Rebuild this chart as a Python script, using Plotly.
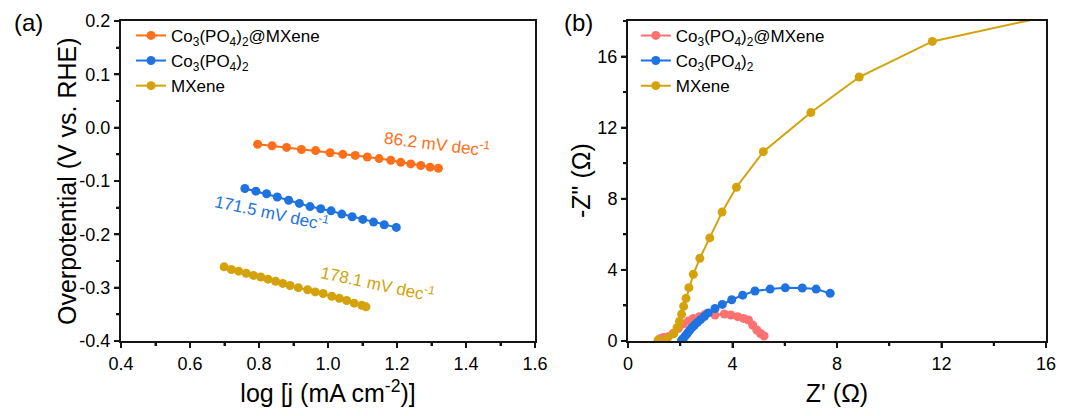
import plotly.graph_objects as go

# ---- Panel (a): Tafel data ----
tafel_cpm_x = [0.796, 0.838, 0.880, 0.923, 0.964, 1.006, 1.043, 1.079, 1.114, 1.148, 1.182, 1.211, 1.240, 1.269, 1.296, 1.320]
tafel_cpm_y = [-0.031, -0.034, -0.037, -0.041, -0.043, -0.047, -0.050, -0.052, -0.055, -0.058, -0.061, -0.065, -0.068, -0.071, -0.074, -0.076]

tafel_cp_x = [0.759, 0.791, 0.822, 0.853, 0.886, 0.917, 0.948, 0.979, 1.009, 1.040, 1.070, 1.101, 1.132, 1.163, 1.198]
tafel_cp_y = [-0.114, -0.119, -0.124, -0.130, -0.136, -0.142, -0.148, -0.152, -0.156, -0.162, -0.167, -0.172, -0.177, -0.182, -0.187]

tafel_mx_x = [0.699, 0.720, 0.741, 0.763, 0.784, 0.805, 0.826, 0.848, 0.869, 0.890, 0.914, 0.941, 0.963, 0.986, 1.011, 1.033, 1.054, 1.076, 1.098, 1.110]
tafel_mx_y = [-0.261, -0.266, -0.269, -0.273, -0.277, -0.280, -0.284, -0.288, -0.292, -0.296, -0.300, -0.304, -0.308, -0.311, -0.316, -0.320, -0.324, -0.329, -0.333, -0.336]

tafel_slopes = ["86.2", "171.5", "178.1"]

# ---- Panel (b): Nyquist data ----
eis_cpm_x = [1.23, 1.35, 1.54, 1.73, 1.93, 2.12, 2.31, 2.50, 2.73, 2.95, 3.33, 3.69, 3.94, 4.20, 4.42, 4.61, 4.77, 4.93, 5.07, 5.21]
eis_cpm_y = [0.13, 0.19, 0.24, 0.43, 0.71, 0.96, 1.12, 1.27, 1.37, 1.50, 1.46, 1.52, 1.46, 1.37, 1.27, 1.18, 0.90, 0.62, 0.42, 0.28]

eis_cp_x = [2.05, 2.12, 2.20, 2.28, 2.36, 2.45, 2.55, 2.66, 2.78, 2.92, 3.07, 3.33, 3.61, 3.97, 4.39, 4.86, 5.44, 6.02, 6.67, 7.20, 7.74]
eis_cp_y = [0.05, 0.15, 0.30, 0.45, 0.60, 0.75, 0.90, 1.05, 1.20, 1.38, 1.58, 1.83, 2.06, 2.32, 2.58, 2.81, 2.92, 2.99, 2.98, 2.92, 2.68]

eis_mx_x = [1.15, 1.50, 1.75, 1.88, 1.97, 2.05, 2.13, 2.22, 2.33, 2.50, 2.75, 3.13, 3.60, 4.15, 5.18, 7.00, 8.85, 11.65, 16.50]
eis_mx_y = [0.05, 0.15, 0.40, 0.75, 1.10, 1.50, 1.95, 2.40, 3.00, 3.75, 4.65, 5.80, 7.25, 8.65, 10.65, 12.85, 14.85, 16.85, 18.40]

# ---- tick values / labels ----
a_xticks = [0.4, 0.6, 0.8, 1.0, 1.2, 1.4, 1.6]
a_xlabels = ["0.4", "0.6", "0.8", "1.0", "1.2", "1.4", "1.6"]
a_yticks = [-0.4, -0.3, -0.2, -0.1, 0.0, 0.1, 0.2]
a_ylabels = ["-0.4", "-0.3", "-0.2", "-0.1", "0.0", "0.1", "0.2"]
b_xticks = [0, 4, 8, 12, 16]
b_yticks = [0, 4, 8, 12, 16]
b_labels = ["0", "4", "8", "12", "16"]
a_xminor = [0.5, 0.7, 0.9, 1.1, 1.3, 1.5]
a_yminor = [-0.35, -0.25, -0.15, -0.05, 0.05, 0.15]
b_xminor = [2, 6, 10, 14]
b_yminor = [2, 6, 10, 14]

names = ["Co<sub>3</sub>(PO<sub>4</sub>)<sub>2</sub>@MXene", "Co<sub>3</sub>(PO<sub>4</sub>)<sub>2</sub>", "MXene"]
col_orange = "#FF6F1A"
col_blue = "#1E73E0"
col_gold = "#D4A20A"
col_pink = "#FF7070"
col_axis = "#151515"

FONT = "Arial"
W, H = 1074, 416
PX_A = (121, 535)     # panel (a) left/right pixel
PX_B = (628, 1046)    # panel (b) left/right pixel
PY = (21, 341)        # top/bottom pixel
XDOM_A = [PX_A[0] / W, PX_A[1] / W]
XDOM_B = [PX_B[0] / W, PX_B[1] / W]
YDOM = [1 - PY[1] / H, 1 - PY[0] / H]
RX_A, RY_A = [0.4, 1.6], [-0.4, 0.2]
RX_B, RY_B = [0, 16], [0, 18]

fig = go.Figure()

def add(x, y, name, color, xa, ya, legend):
    fig.add_trace(go.Scatter(
        x=x, y=y, name=name, mode="lines+markers",
        line=dict(color=color, width=2),
        marker=dict(color=color, size=9),
        xaxis=xa, yaxis=ya, legend=legend, hoverinfo="skip"))

add(tafel_cpm_x, tafel_cpm_y, names[0], col_orange, "x", "y", "legend")
add(tafel_cp_x, tafel_cp_y, names[1], col_blue, "x", "y", "legend")
add(tafel_mx_x, tafel_mx_y, names[2], col_gold, "x", "y", "legend")

add(eis_cpm_x, eis_cpm_y, names[0], col_pink, "x2", "y2", "legend2")
add(eis_cp_x, eis_cp_y, names[1], col_blue, "x2", "y2", "legend2")
add(eis_mx_x, eis_mx_y, names[2], col_gold, "x2", "y2", "legend2")

# ---- frame + tick marks as a pixel-space overlay trace ----
fx, fy = [], []
def seg(x0, y0, x1, y1):
    fx.extend([x0, x1, None]); fy.extend([y0, y1, None])

def frame(px, rx, ry, majx, minx, majy, miny):
    l, r = px; t, b = PY
    lo, ro, to, bo = l - 1, r + 1, t - 1, b + 1
    fx.extend([lo, ro, ro, lo, lo, None]); fy.extend([bo, bo, to, to, bo, None])
    for vals, ln in ((majx, 6), (minx, 4)):
        for v in vals:
            p = l + (v - rx[0]) / (rx[1] - rx[0]) * (r - l)
            seg(p, bo, p, bo + ln)
    for vals, ln in ((majy, 6), (miny, 4)):
        for v in vals:
            p = b - (v - ry[0]) / (ry[1] - ry[0]) * (b - t)
            seg(lo, p, lo - ln, p)

frame(PX_A, RX_A, RY_A, a_xticks, a_xminor, a_yticks, a_yminor)
frame(PX_B, RX_B, RY_B, b_xticks, b_xminor, b_yticks, b_yminor)
fig.add_trace(go.Scatter(x=fx, y=fy, mode="lines", line=dict(color=col_axis, width=2),
                         xaxis="x3", yaxis="y3", showlegend=False, hoverinfo="skip",
                         connectgaps=False))


def axis(domain, rng, ticks, labels, minor_dtick, title, anchor):
    d = dict(
        domain=domain, range=rng, tickmode="array", tickvals=ticks, ticktext=labels,
        anchor=anchor, automargin=False,
        showline=True, linecolor=col_axis, linewidth=2, mirror=True,
        ticks="outside", ticklen=5, tickwidth=2, tickcolor=col_axis,
        minor=dict(ticks="outside", ticklen=3, tickwidth=2, tickcolor=col_axis,
                   tickmode="linear", dtick=minor_dtick, showgrid=False),
        showgrid=False, zeroline=False,
        tickfont=dict(family=FONT, size=18, color="black"),
    )
    if title:
        d["title"] = dict(text=title, standoff=12, font=dict(family=FONT, size=25, color="black"))
    return d


fig.update_layout(
    template="simple_white",
    width=W, height=H,
    margin=dict(l=0, r=0, t=0, b=0),
    paper_bgcolor="white", plot_bgcolor="rgba(0,0,0,0)",
    font=dict(family=FONT, color="black", size=17),
    showlegend=True,
    xaxis=axis(XDOM_A, RX_A, a_xticks, a_xlabels, 0.1, "log [j (mA cm<sup>-2</sup>)]", "y"),
    yaxis=axis(YDOM, RY_A, a_yticks, a_ylabels, 0.05, None, "x"),
    xaxis2=axis(XDOM_B, RX_B, b_xticks, b_labels, 2, "Z' (Ω)", "y2"),
    yaxis2=axis(YDOM, RY_B, b_yticks, b_labels, 2, None, "x2"),
    xaxis3=dict(domain=[0, 1], range=[0, W], visible=False, anchor="y3", fixedrange=True),
    yaxis3=dict(domain=[0, 1], range=[H, 0], visible=False, anchor="x3", fixedrange=True),
    legend=dict(x=0.122, y=0.957, xanchor="left", yanchor="top", bgcolor="rgba(0,0,0,0)",
                font=dict(family=FONT, size=17, color="black"), tracegroupgap=0),
    legend2=dict(x=0.592, y=0.957, xanchor="left", yanchor="top", bgcolor="rgba(0,0,0,0)",
                 font=dict(family=FONT, size=17, color="black"), tracegroupgap=0),
)

# y-axis titles
fig.add_annotation(x=67 / W, y=1 - 181 / H, xref="paper", yref="paper", text="Overpotential (V vs. RHE)",
                   textangle=-90, showarrow=False, xanchor="center", yanchor="middle",
                   font=dict(family=FONT, size=25, color="black"))
fig.add_annotation(x=581 / W, y=1 - 181 / H, xref="paper", yref="paper", text="-Z\" (Ω)",
                   textangle=-90, showarrow=False, xanchor="center", yanchor="middle",
                   font=dict(family=FONT, size=25, color="black"))

# slope annotations
ann_pos = [(1.316, -0.029, 7, col_orange), (0.838, -0.158, 12, col_blue), (1.145, -0.291, 12, col_gold)]
for s, (ax_, ay_, ang, c) in zip(tafel_slopes, ann_pos):
    fig.add_annotation(x=ax_, y=ay_, xref="x", yref="y", text=f"{s} mV dec<sup>-1</sup>",
                       showarrow=False, textangle=ang, font=dict(family=FONT, size=17, color=c))

# panel labels
fig.add_annotation(x=28 / W, y=1 - 22 / H, xref="paper", yref="paper", text="(a)", showarrow=False,
                   font=dict(family=FONT, size=24, color="black"), xanchor="center", yanchor="middle")
fig.add_annotation(x=578 / W, y=1 - 22 / H, xref="paper", yref="paper", text="(b)", showarrow=False,
                   font=dict(family=FONT, size=24, color="black"), xanchor="center", yanchor="middle")

fig.write_html("out.html")
